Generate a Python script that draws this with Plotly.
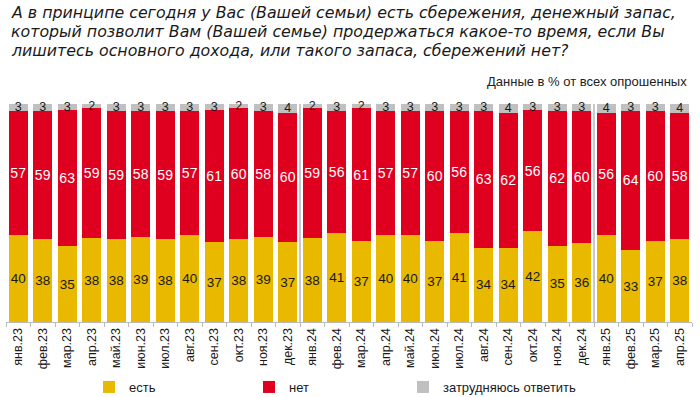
import plotly.graph_objects as go

months = ["янв.23", "фев.23", "мар.23", "апр.23", "май.23", "июн.23", "июл.23", "авг.23",
          "сен.23", "окт.23", "ноя.23", "дек.23", "янв.24", "фев.24", "мар.24", "апр.24",
          "май.24", "июн.24", "июл.24", "авг.24", "сен.24", "окт.24", "ноя.24", "дек.24",
          "янв.25", "фев.25", "мар.25", "апр.25"]
yes_vals = [40, 38, 35, 38, 38, 39, 38, 40, 37, 38, 39, 37,
            38, 41, 37, 40, 40, 37, 41, 34, 34, 42, 35, 36,
            40, 33, 37, 38]
no_vals = [57, 59, 63, 59, 59, 58, 59, 57, 61, 60, 58, 60,
           59, 56, 61, 57, 57, 60, 56, 63, 62, 56, 62, 60,
           56, 64, 60, 58]
hard_vals = [3, 3, 3, 2, 3, 3, 3, 3, 3, 2, 3, 4,
             2, 3, 2, 3, 3, 3, 3, 3, 4, 3, 3, 3,
             4, 3, 3, 4]
series_names = ["есть", "нет", "затрудняюсь ответить"]
separators_after = ["дек.23", "дек.24"]
title_lines = [
    "А в принципе сегодня у Вас (Вашей семьи) есть сбережения, денежный запас,",
    "который позволит Вам (Вашей семье) продержаться какое-то время, если Вы",
    "лишитесь основного дохода, или такого запаса, сбережений нет?",
]
subtitle = "Данные в % от всех опрошенных"

YELLOW = "#E9B900"
RED = "#DF0020"
GRAY = "#C0C0C0"
FONT = "Liberation Sans, Arial, sans-serif"
TITLE_FONT = "DejaVu Sans, sans-serif"

W, H = 700, 397
ML, MR, MT, MB = 6, 8, 104, 75
PW, PH = W - ML - MR, H - MT - MB


def px_x(px):
    return (px - ML) / PW


def px_y(py):
    return (H - MB - py) / PH


legend_ids = ["legend", "legend2", "legend3"]
legend_text_x = [127, 287, 441]

fig = go.Figure()
for name, vals, color, tcolor, tsize, lg in [
    (series_names[0], yes_vals, YELLOW, "#1a1a1a", 13.5, legend_ids[0]),
    (series_names[1], no_vals, RED, "#ffffff", 14, legend_ids[1]),
    (series_names[2], hard_vals, GRAY, "#1a1a1a", 12.5, legend_ids[2]),
]:
    fig.add_trace(go.Bar(
        x=months, y=vals, name=name, legend=lg,
        marker=dict(color=color, line=dict(width=0)),
        text=[str(v) for v in vals], textposition="inside",
        insidetextanchor="middle", constraintext="none", cliponaxis=False,
        textfont=dict(color=tcolor, size=tsize, family=FONT),
        textangle=0, hoverinfo="skip",
    ))

for m in separators_after:
    i = months.index(m)
    fig.add_shape(type="line", xref="x", yref="y", x0=i + 0.5, x1=i + 0.5,
                  y0=0, y1=100, line=dict(color="#C8C8C8", width=2))

for k, line in enumerate(title_lines):
    fig.add_annotation(
        text="<i>" + line + "</i>", xref="paper", yref="paper",
        x=px_x(9), y=px_y(12.5 + 19 * k), xanchor="left", yanchor="middle",
        showarrow=False, font=dict(size=15.8, color="#1a1a1a", family=TITLE_FONT))
fig.add_annotation(
    text=subtitle, xref="paper", yref="paper",
    x=px_x(689), y=px_y(81), xanchor="right", yanchor="middle", showarrow=False,
    font=dict(size=13, color="#222222", family=FONT))

legend_cfg = {}
for lg, tx in zip(legend_ids, legend_text_x):
    legend_cfg[lg] = dict(
        orientation="h", xref="container", yref="container",
        x=(tx - 38) / W, y=1 - 387 / H, xanchor="left", yanchor="middle",
        font=dict(size=13, family=FONT, color="#1a1a1a"),
        bgcolor="rgba(0,0,0,0)", itemclick=False, itemdoubleclick=False)

fig.update_layout(
    width=W, height=H, barmode="stack", barnorm="percent", bargap=0.225,
    margin=dict(l=ML, r=MR, t=MT, b=MB),
    plot_bgcolor="white", paper_bgcolor="white",
    font=dict(family=FONT, color="#1a1a1a"),
    showlegend=True,
    xaxis=dict(type="category", tickangle=-90, tickfont=dict(size=12.5, family=FONT, color="#1a1a1a"),
               showline=True, linecolor="#BBBBBB", linewidth=1, ticks="outside",
               tickson="boundaries", ticklen=4, tickcolor="#BBBBBB",
               showgrid=False, automargin=False, fixedrange=True),
    yaxis=dict(range=[0, 100], visible=False, showgrid=False, fixedrange=True),
    **legend_cfg,
)

fig.write_html("out.html", config={"displayModeBar": False},
               post_script="document.body.style.margin='0px';")
